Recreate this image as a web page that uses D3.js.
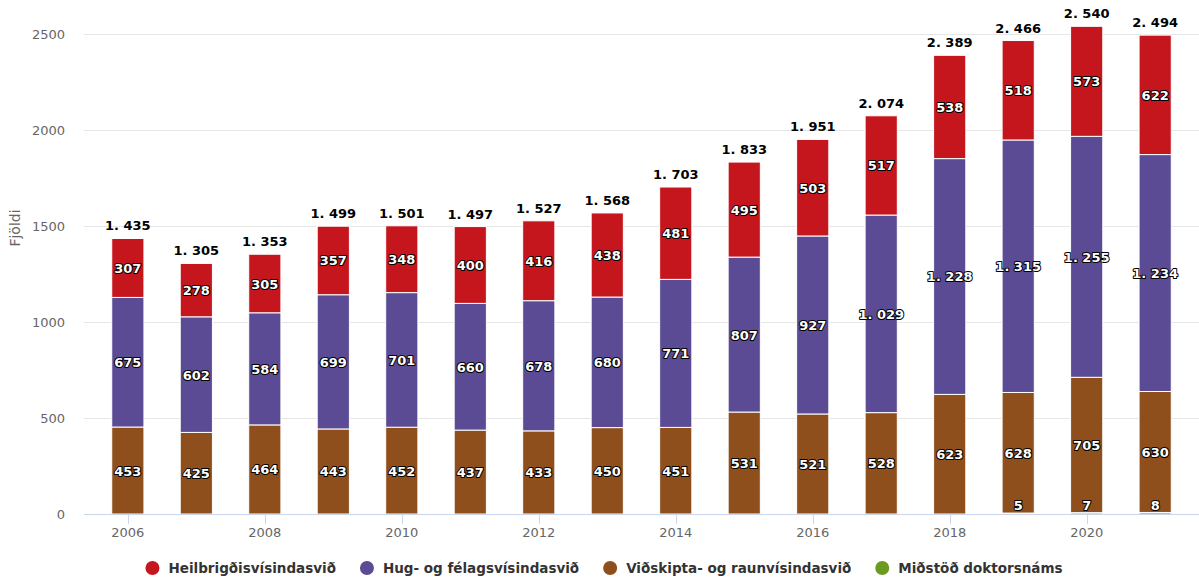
<!DOCTYPE html>
<html><head><meta charset="utf-8">
<script src="https://cdn.jsdelivr.net/npm/d3@7"></script>
<style>
body{margin:0;background:#fff;}
svg{display:block;font-family:"DejaVu Sans",sans-serif;}
</style></head>
<body><svg id="c" width="1199" height="581"></svg>
<script>
const years = [2006,2007,2008,2009,2010,2011,2012,2013,2014,2015,2016,2017,2018,2019,2020,2021];
const heilbrigdis = [307,278,305,357,348,400,416,438,481,495,503,517,538,518,573,622];
const hug = [675,602,584,699,701,660,678,680,771,807,927,1029,1228,1315,1255,1234];
const vidskipta = [453,425,464,443,452,437,433,450,451,531,521,528,623,628,705,630];
const midstod = [0,0,0,0,0,0,0,0,0,0,0,0,0,5,7,8];
const seriesNames = ["Heilbrigðisvísindasvið","Hug- og félagsvísindasvið","Viðskipta- og raunvísindasvið","Miðstöð doktorsnáms"];
const colors = ["#c5161d","#5a4b94","#8e4f1c","#6a9a1f"];
const yTicks = [0,500,1000,1500,2000,2500];
const xTicks = [2006,2008,2010,2012,2014,2016,2018,2020];
const yTitle = "Fjöldi";

const svg = d3.select("#c");
const L = 84, R = 1199, T = 34, B = 514;
const x = d3.scaleLinear().domain([2005.36, 2021.64]).range([L, R]);
const y = d3.scaleLinear().domain([0, 2500]).range([B, T]);
const loc = d3.formatLocale({decimal:",", thousands:". ", grouping:[3], currency:["",""]});
const fmt = loc.format(",d");

// gridlines
svg.append("g").selectAll("line").data(yTicks.filter(d=>d>0)).join("line")
  .attr("x1", L).attr("x2", R).attr("y1", d=>y(d)+0.5).attr("y2", d=>y(d)+0.5)
  .attr("stroke", "#e6e6e6");
// y labels
svg.append("g").selectAll("text").data(yTicks).join("text")
  .attr("x", 65).attr("y", d=>y(d)+5).attr("text-anchor","end")
  .attr("font-size", 13).attr("fill", "#666").text(d=>d);
svg.append("text").attr("transform","translate(20,228) rotate(-90)")
  .attr("text-anchor","middle").attr("font-size",14).attr("fill","#666").text(yTitle);

// stacked data (bottom to top)
const stackOrder = [midstod, vidskipta, hug, heilbrigdis];
const stackColor = [colors[3], colors[2], colors[1], colors[0]];
const step = x(2007) - x(2006);
const bw = step * 0.47;
const gBars = svg.append("g");
const labels = [];
years.forEach((yr, i) => {
  let base = 0;
  stackOrder.forEach((s, k) => {
    const v = s[i];
    if (v > 0) {
      gBars.append("rect")
        .attr("x", x(yr) - bw/2).attr("width", bw)
        .attr("y", y(base + v)).attr("height", y(base) - y(base + v))
        .attr("fill", stackColor[k]).attr("stroke", "#fff").attr("stroke-width", 1);
      let cy = (y(base) + y(base + v)) / 2;
      cy = Math.min(cy, B - 9);
      labels.push({x: x(yr), y: cy, t: fmt(v)});
    }
    base += v;
  });
  labels.push({x: x(yr), y: y(base) - 13, t: fmt(base), total: true});
});

// x axis
svg.append("line").attr("x1", L).attr("x2", R).attr("y1", B+0.5).attr("y2", B+0.5).attr("stroke", "#ccd6eb");
svg.append("g").selectAll("line").data(xTicks).join("line")
  .attr("x1", d=>Math.round(x(d))+0.5).attr("x2", d=>Math.round(x(d))+0.5)
  .attr("y1", B).attr("y2", B+10).attr("stroke", "#ccd6eb");
svg.append("g").selectAll("text").data(xTicks).join("text")
  .attr("x", d=>x(d)).attr("y", 537).attr("text-anchor","middle")
  .attr("font-size", 13).attr("fill", "#666").text(d=>d);

// labels
const gL = svg.append("g");
labels.forEach(l => {
  if (l.total) {
    gL.append("text").attr("x", l.x).attr("y", l.y + 5).attr("text-anchor","middle")
      .attr("font-size", 13).attr("font-weight","bold").attr("fill","#000").text(l.t);
  } else {
    gL.append("text").attr("x", l.x).attr("y", l.y + 5).attr("text-anchor","middle")
      .attr("font-size", 13).attr("font-weight","bold").attr("fill","#fff")
      .attr("stroke","#000").attr("stroke-width",2).attr("stroke-linejoin","round")
      .attr("paint-order","stroke").text(l.t);
  }
});

// legend
const lg = svg.append("g");
const items = [];
seriesNames.forEach((n, i) => {
  const g = lg.append("g");
  g.append("circle").attr("cx", 7).attr("cy", 0).attr("r", 7).attr("fill", colors[i]);
  const t = g.append("text").attr("x", 23).attr("y", 5).attr("font-size", 13.5)
    .attr("font-weight","bold").attr("fill","#333").text(n);
  const w = 23 + t.node().getComputedTextLength();
  items.push({g, w});
});
const gap = 24;
const total = d3.sum(items, d=>d.w) + gap * (items.length - 1);
let sx = 604 - total/2;
items.forEach(it => { it.g.attr("transform", `translate(${sx},568)`); sx += it.w + gap; });
</script></body></html>
